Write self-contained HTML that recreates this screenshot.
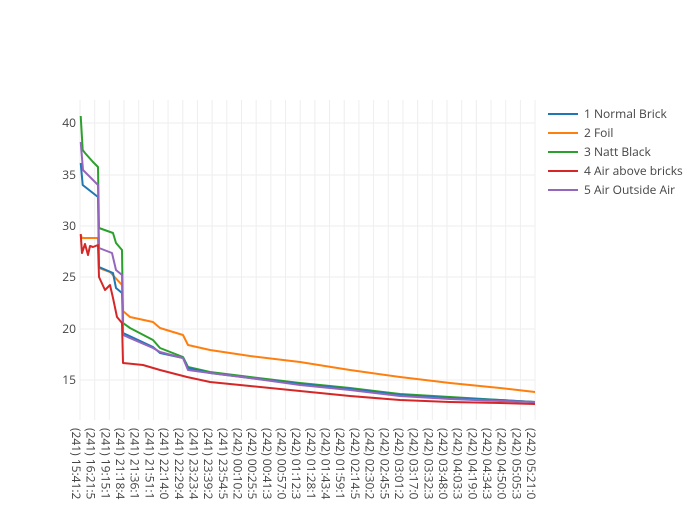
<!DOCTYPE html>
<html><head><style>
body{margin:0;background:#fff;}
svg{font-family:"Open Sans","Liberation Sans",sans-serif;}
</style></head><body>
<svg width="700" height="500" xmlns="http://www.w3.org/2000/svg">
<rect width="700" height="500" fill="#fff"/>
<g stroke="#eee" stroke-width="1" id="grid"></g>
<g stroke="#eee" stroke-width="1">
<line x1="80" x2="535" y1="123" y2="123"/><line x1="80" x2="535" y1="175" y2="175"/>
<line x1="80" x2="535" y1="226" y2="226"/><line x1="80" x2="535" y1="277" y2="277"/>
<line x1="80" x2="535" y1="329" y2="329"/><line x1="80" x2="535" y1="380" y2="380"/>
</g>
<g font-size="12" fill="#444" text-anchor="end">
<text x="76" y="127">40</text><text x="76" y="179">35</text><text x="76" y="230">30</text>
<text x="76" y="281">25</text><text x="76" y="333">20</text><text x="76" y="384">15</text>
</g>
<g id="xl" font-size="12" fill="#444"></g>
<g fill="none" stroke-width="2" stroke-linejoin="round">
<polyline stroke="#ff7f0e" points="80.7,235 82,238 98,238 99,268 110,272 122,285 123,311 130,317 153,322 160,328 183,335 188,345 210,350 250,356 300,362 350,370 400,377 450,383 500,388 535,392"/>
<polyline stroke="#2ca02c" points="80.7,116 82.7,150 85,153 93,162 98,167 99,228 113,233 116,243 122,250 123,323 130,328 153,340 160,348 183,357 188,367 210,372 250,377 300,383 350,388 400,394 450,397 500,400 535,402"/>
<polyline stroke="#1f77b4" points="80.7,163 82.7,185 98,197 99,267 113,273 116,288 122,293 123,333 153,347 160,353 183,358 188,368 210,373 250,378 300,384 350,389 400,395 450,398 500,400 535,402"/>
<polyline stroke="#9467bd" points="80.7,142 83,170 98,185 99,248 112,253 116,270 122,275 123,335 153,348 160,352 183,358 188,370 210,373 250,378 300,385 350,390 400,396 450,399 500,401 535,402"/>
<polyline stroke="#d62728" points="80.7,234 82,253 85,244 88,255 90,246 93,247 98,245 99,277 105,290 110,285 113,298 117,317 122,323 123,363 143,365 160,370 187,377 210,382 250,386 300,391 350,396 400,400 450,402 500,403 535,404"/>
</g>
<g font-size="12" fill="#444">
<line x1="548" x2="578" y1="114" y2="114" stroke="#1f77b4" stroke-width="2"/><text x="584" y="118">1 Normal Brick</text>
<line x1="548" x2="578" y1="133" y2="133" stroke="#ff7f0e" stroke-width="2"/><text x="584" y="137">2 Foil</text>
<line x1="548" x2="578" y1="152" y2="152" stroke="#2ca02c" stroke-width="2"/><text x="584" y="156">3 Natt Black</text>
<line x1="548" x2="578" y1="171" y2="171" stroke="#d62728" stroke-width="2"/><text x="584" y="175">4 Air above bricks</text>
<line x1="548" x2="578" y1="190" y2="190" stroke="#9467bd" stroke-width="2"/><text x="584" y="194">5 Air Outside Air</text>
</g>
<script>
var L=["(241) 15:41:2","(241) 16:21:5","(241) 19:15:1","(241) 21:18:4","(241) 21:36:1","(241) 21:51:1","(241) 22:14:0","(241) 22:29:4","(241) 23:23:4","(241) 23:39:2","(241) 23:54:5","(242) 00:10:2","(242) 00:25:5","(242) 00:41:3","(242) 00:57:0","(242) 01:12:3","(242) 01:28:1","(242) 01:43:4","(242) 01:59:1","(242) 02:14:5","(242) 02:30:2","(242) 02:45:5","(242) 03:01:2","(242) 03:17:0","(242) 03:32:3","(242) 03:48:0","(242) 04:03:3","(242) 04:19:0","(242) 04:34:3","(242) 04:50:0","(242) 05:05:3","(242) 05:21:0"];
var g=document.getElementById("grid"),xl=document.getElementById("xl"),ns="http://www.w3.org/2000/svg";
for(var i=0;i<32;i++){var x=80+i*14.68;
var l=document.createElementNS(ns,"line");l.setAttribute("x1",x);l.setAttribute("x2",x);l.setAttribute("y1",100);l.setAttribute("y2",420);g.appendChild(l);
var t=document.createElementNS(ns,"text");t.setAttribute("transform","translate("+(x-8)+",428) rotate(90)");t.textContent=L[i];xl.appendChild(t);}
</script>
</svg>
</body></html>
